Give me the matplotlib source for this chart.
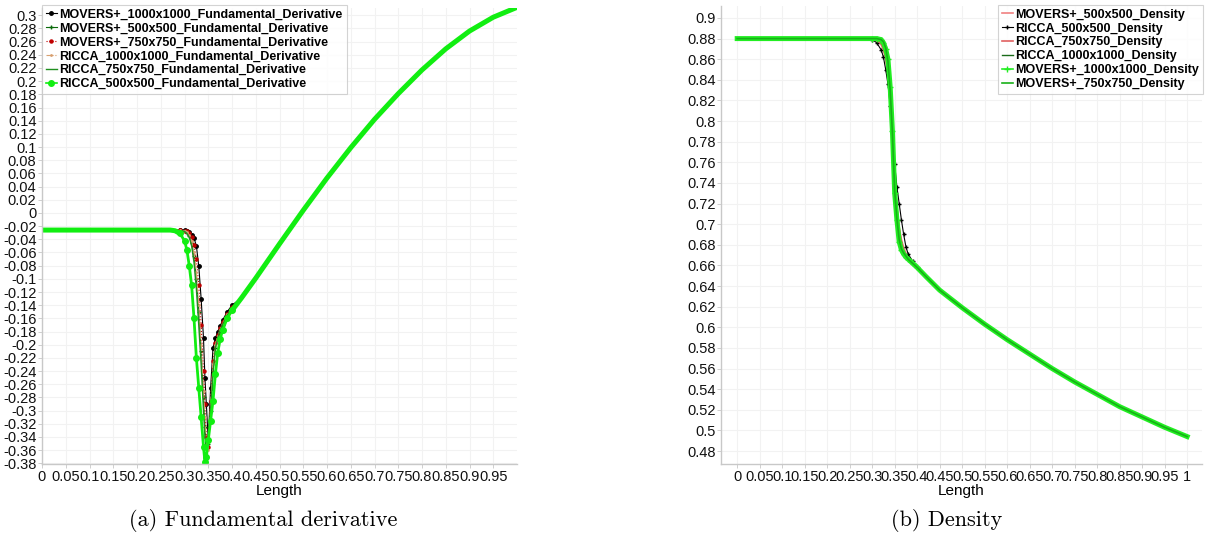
import matplotlib
matplotlib.use("Agg")
import matplotlib.pyplot as plt
import numpy as np

# ---- fundamental derivative (left panel) ----
x_fd = [0, 0.1, 0.2, 0.25, 0.27, 0.28, 0.29, 0.30, 0.305, 0.31, 0.315, 0.32, 0.325,
        0.33, 0.335, 0.34, 0.343, 0.346, 0.35, 0.355, 0.36, 0.365, 0.37, 0.375, 0.38,
        0.39, 0.40, 0.42, 0.45, 0.5, 0.55, 0.6, 0.65, 0.7, 0.75, 0.8, 0.85, 0.9, 0.95, 1.0]
fd_tail = [-0.129, -0.099, -0.047, 0.004, 0.053, 0.099, 0.142, 0.181, 0.217, 0.249, 0.276, 0.297, 0.312]

fd_movers_1000 = [-0.026, -0.026, -0.026, -0.026, -0.026, -0.026, -0.026, -0.026, -0.027, -0.029, -0.033,
                  -0.038, -0.050, -0.080, -0.130, -0.190, -0.250, -0.290, -0.345, -0.265, -0.205, -0.190,
                  -0.180, -0.172, -0.163, -0.150, -0.140] + fd_tail
fd_movers_500 = [-0.026, -0.026, -0.026, -0.026, -0.026, -0.026, -0.027, -0.028, -0.030, -0.035, -0.045,
                 -0.065, -0.100, -0.150, -0.210, -0.280, -0.325, -0.355, -0.350, -0.300, -0.240, -0.205,
                 -0.190, -0.178, -0.170, -0.155, -0.145] + fd_tail
fd_movers_750 = [-0.026, -0.026, -0.026, -0.026, -0.026, -0.026, -0.026, -0.027, -0.028, -0.030, -0.036,
                 -0.048, -0.070, -0.110, -0.170, -0.240, -0.290, -0.340, -0.355, -0.285, -0.225, -0.198,
                 -0.185, -0.175, -0.166, -0.153, -0.142] + fd_tail
fd_ricca_1000 = [-0.026, -0.026, -0.026, -0.026, -0.026, -0.026, -0.026, -0.027, -0.029, -0.033, -0.043,
                 -0.060, -0.090, -0.140, -0.200, -0.270, -0.310, -0.350, -0.360, -0.290, -0.230, -0.200,
                 -0.187, -0.177, -0.168, -0.154, -0.144] + fd_tail
fd_ricca_750 = [-0.026, -0.026, -0.026, -0.026, -0.026, -0.026, -0.027, -0.028, -0.031, -0.037, -0.050,
                -0.075, -0.115, -0.170, -0.230, -0.300, -0.340, -0.360, -0.350, -0.300, -0.245, -0.205,
                -0.190, -0.178, -0.170, -0.155, -0.145] + fd_tail
fd_ricca_500 = [-0.026, -0.026, -0.026, -0.026, -0.026, -0.027, -0.031, -0.042, -0.056, -0.080, -0.110,
                -0.160, -0.220, -0.265, -0.310, -0.355, -0.378, -0.370, -0.345, -0.315, -0.285, -0.245,
                -0.212, -0.192, -0.178, -0.160, -0.148] + fd_tail

# ---- density (right panel) ----
x_rho = [0, 0.1, 0.2, 0.25, 0.28, 0.30, 0.31, 0.32, 0.325, 0.33, 0.335, 0.34, 0.345, 0.35,
         0.355, 0.36, 0.365, 0.37, 0.375, 0.38, 0.39, 0.40, 0.42, 0.45, 0.5, 0.55, 0.6, 0.65,
         0.7, 0.75, 0.8, 0.85, 0.9, 0.95, 1.0]
rho_tail = [0.649, 0.636, 0.619, 0.603, 0.588, 0.574, 0.560, 0.547, 0.535, 0.523, 0.513, 0.503, 0.494]

rho_movers_500 = [0.88, 0.88, 0.88, 0.88, 0.88, 0.879, 0.878, 0.874, 0.869, 0.860, 0.845, 0.822, 0.786,
                  0.745, 0.716, 0.697, 0.685, 0.677, 0.672, 0.668, 0.663, 0.658] + rho_tail
rho_ricca_500 = [0.88, 0.88, 0.88, 0.88, 0.88, 0.879, 0.876, 0.869, 0.862, 0.850, 0.836, 0.815, 0.790,
                 0.758, 0.736, 0.720, 0.704, 0.690, 0.678, 0.671, 0.664, 0.658] + rho_tail
rho_ricca_750 = [0.88, 0.88, 0.88, 0.88, 0.88, 0.88, 0.879, 0.875, 0.870, 0.862, 0.848, 0.825, 0.788,
                 0.745, 0.715, 0.695, 0.683, 0.675, 0.670, 0.667, 0.663, 0.658] + rho_tail
rho_ricca_1000 = [0.88, 0.88, 0.88, 0.88, 0.88, 0.88, 0.88, 0.877, 0.873, 0.866, 0.853, 0.830, 0.790,
                  0.740, 0.710, 0.690, 0.679, 0.673, 0.669, 0.666, 0.662, 0.658] + rho_tail
rho_movers_1000 = [0.88, 0.88, 0.88, 0.88, 0.88, 0.88, 0.88, 0.879, 0.876, 0.870, 0.860, 0.833, 0.790,
                   0.730, 0.704, 0.683, 0.675, 0.671, 0.668, 0.666, 0.662, 0.658] + rho_tail
rho_movers_750 = [0.88, 0.88, 0.88, 0.88, 0.88, 0.88, 0.88, 0.879, 0.877, 0.871, 0.858, 0.830, 0.788,
                  0.732, 0.705, 0.685, 0.676, 0.672, 0.669, 0.666, 0.662, 0.658] + rho_tail

fd_yticks = np.round(np.arange(-0.38, 0.301, 0.02), 2)
fd_xticks = np.round(np.arange(0, 0.951, 0.05), 2)
rho_yticks = np.round(np.arange(0.48, 0.901, 0.02), 2)
rho_xticks = np.round(np.arange(0, 1.001, 0.05), 2)

tickfont = "Liberation Sans"
W, H = 1209, 537
fig = plt.figure(figsize=(W / 100, H / 100), dpi=100)
ax1 = fig.add_axes([42 / W, 1 - 464 / H, (517 - 42) / W, (464 - 8) / H])
ax2 = fig.add_axes([721 / W, 1 - 464 / H, (1202 - 721) / W, (464 - 6) / H])

dip_fd = slice(6, 27)
ax1.plot(x_fd, fd_movers_1000, color="black", lw=0.8, marker="o", ms=2.5, markevery=dip_fd,
         label="MOVERS+_1000x1000_Fundamental_Derivative")
ax1.plot(x_fd, fd_movers_500, color="#0b6b0b", lw=0.8, marker="+", ms=3, markevery=dip_fd,
         label="MOVERS+_500x500_Fundamental_Derivative")
ax1.plot(x_fd, fd_movers_750, color="#c00000", lw=0.8, marker="o", ms=2.2, ls=":", markevery=dip_fd,
         label="MOVERS+_750x750_Fundamental_Derivative")
ax1.plot(x_fd, fd_ricca_1000, color="#d8a070", lw=0.8, ls="-.", marker=".", ms=2, markevery=dip_fd,
         label="RICCA_1000x1000_Fundamental_Derivative")
ax1.plot(x_fd, fd_ricca_750, color="#1f8f1f", lw=1.0, label="RICCA_750x750_Fundamental_Derivative")
ax1.plot(x_fd, fd_ricca_500, color="#11ee11", lw=2.0, marker="o", ms=4, markevery=dip_fd,
         label="RICCA_500x500_Fundamental_Derivative")
# thick overlap of densely packed markers away from the dip
ax1.plot(x_fd[:7], fd_ricca_500[:7], color="#11ee11", lw=3.6, solid_capstyle="butt")
ax1.plot(x_fd[26:], fd_ricca_500[26:], color="#11ee11", lw=3.6, solid_capstyle="round")
ax1.set_xlim(0, 1.0)
ax1.set_ylim(-0.381, 0.311)
ax1.set_xticks(fd_xticks)
ax1.set_xticklabels(["%g" % v for v in fd_xticks])
ax1.set_yticks(fd_yticks)
ax1.set_yticklabels(["%g" % v for v in fd_yticks])

dip_rho = slice(5, 22)
ax2.plot(x_rho, rho_movers_500, color="#f08080", lw=1.2, label="MOVERS+_500x500_Density")
ax2.plot(x_rho, rho_ricca_500, color="black", lw=0.8, marker="+", ms=3.5, markevery=dip_rho,
         label="RICCA_500x500_Density")
ax2.plot(x_rho, rho_ricca_750, color="#e06060", lw=1.2, label="RICCA_750x750_Density")
ax2.plot(x_rho, rho_ricca_1000, color="#1a6b1a", lw=1.0, label="RICCA_1000x1000_Density")
ax2.plot(x_rho, rho_movers_1000, color="#22ee22", lw=3.6, marker="+", ms=4, markevery=dip_rho,
         label="MOVERS+_1000x1000_Density")
ax2.plot(x_rho, rho_movers_750, color="#18b018", lw=1.2, label="MOVERS+_750x750_Density")
ax2.set_xlim(-0.036, 1.033)
ax2.set_ylim(0.4674, 0.9116)
ax2.set_xticks(rho_xticks)
ax2.set_xticklabels(["%g" % v for v in rho_xticks])
ax2.set_yticks(rho_yticks)
ax2.set_yticklabels(["%g" % v for v in rho_yticks])

for ax in (ax1, ax2):
    for s in ("top", "right"):
        ax.spines[s].set_visible(False)
    for s in ("left", "bottom"):
        ax.spines[s].set_color("#c8c8c8")
        ax.spines[s].set_linewidth(1.0)
    ax.grid(True, color="#f2f2f2", lw=0.8)
    ax.set_axisbelow(True)
    ax.tick_params(length=3, width=0.6, color="#c8c8c8", pad=1, labelsize=10.5, labelcolor="#111111")
    for lab in ax.get_xticklabels() + ax.get_yticklabels():
        lab.set_fontfamily(tickfont)
    ax.set_xlabel("Length", fontsize=11, fontfamily=tickfont, labelpad=0)

leg_kw = dict(prop={"family": tickfont, "weight": "bold", "size": 9}, frameon=True, fancybox=False,
              borderaxespad=0, handlelength=0.9, handletextpad=0.2, labelspacing=0.15, borderpad=0.3,
              bbox_transform=fig.transFigure)
l1 = ax1.legend(loc="upper left", bbox_to_anchor=(42 / W, 1 - 5 / H), **leg_kw)
l2 = ax2.legend(loc="upper right", bbox_to_anchor=(1203 / W, 1 - 5 / H), **leg_kw)
for lg in (l1, l2):
    lg.get_frame().set_edgecolor("#c8c8c8")
    lg.get_frame().set_linewidth(0.8)
    lg.set_zorder(5)
    for h in lg.get_lines():
        h.set_linewidth(min(h.get_linewidth(), 1.2))

fig.text(263 / W, 1 - 520 / H, "(a) Fundamental derivative", ha="center", va="center", fontsize=16, fontfamily="cmr10")
fig.text(947 / W, 1 - 520 / H, "(b) Density", ha="center", va="center", fontsize=16, fontfamily="cmr10")

fig.savefig("out.png", dpi=100)
